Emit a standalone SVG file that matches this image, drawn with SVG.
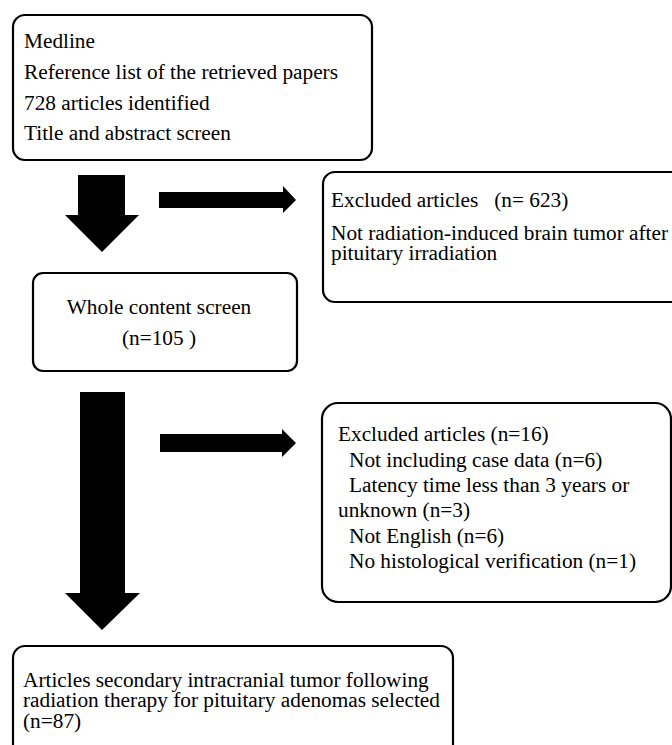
<svg xmlns="http://www.w3.org/2000/svg" width="672" height="745" viewBox="0 0 672 745">
<style>
.box{fill:#fff;stroke:#000;stroke-width:2.2}
.t{font-family:"Liberation Serif","Times New Roman",serif;font-size:21.3px;fill:#000}
.arr{fill:#000;stroke:none}
</style>
<rect width="672" height="745" fill="#fff"/>
<g id="connectors">
<polygon class="arr" points="78,175 125,175 125,215 139,215 102,252 65,215 78,215"/>
<polygon class="arr" points="159,192 283,192 283,186 296,200 283,213 283,208 159,208"/>
<polygon class="arr" points="80,392 125,392 125,593 140,593 102,630 65,593 80,593"/>
<polygon class="arr" points="160,434 282,434 282,429 296,443 282,457 282,452 160,452"/>
</g>
<g id="node-search">
<rect class="box" x="13" y="15" width="359" height="145" rx="12"/>
<text class="t" x="24" y="48">Medline</text>
<text class="t" x="24" y="79">Reference list of the retrieved papers</text>
<text class="t" x="24" y="110">728 articles identified</text>
<text class="t" x="24" y="140">Title and abstract screen</text>
</g>
<g id="node-excluded1">
<rect class="box" x="323" y="172" width="370" height="130" rx="12"/>
<text class="t" x="331" y="207" xml:space="preserve">Excluded articles   (n= 623)</text>
<text class="t" x="331" y="240">Not radiation-induced brain tumor after</text>
<text class="t" x="331" y="260">pituitary irradiation</text>
</g>
<g id="node-whole">
<rect class="box" x="33" y="273" width="264" height="98" rx="10"/>
<text class="t" x="159" y="314" text-anchor="middle">Whole content screen</text>
<text class="t" x="159" y="345" text-anchor="middle" xml:space="preserve">(n=105 )</text>
</g>
<g id="node-excluded2">
<rect class="box" x="322" y="403" width="349" height="199" rx="16"/>
<text class="t" x="338" y="441">Excluded articles (n=16)</text>
<text class="t" x="349" y="467">Not including case data (n=6)</text>
<text class="t" x="349" y="492">Latency time less than 3 years or</text>
<text class="t" x="338" y="517">unknown (n=3)</text>
<text class="t" x="349" y="543">Not English (n=6)</text>
<text class="t" x="349" y="568">No histological verification (n=1)</text>
</g>
<g id="node-selected">
<rect class="box" x="13" y="646" width="440" height="120" rx="12"/>
<text class="t" x="23" y="687">Articles secondary intracranial tumor following</text>
<text class="t" x="23" y="707">radiation therapy for pituitary adenomas selected</text>
<text class="t" x="23" y="728">(n=87)</text>
</g>
</svg>
